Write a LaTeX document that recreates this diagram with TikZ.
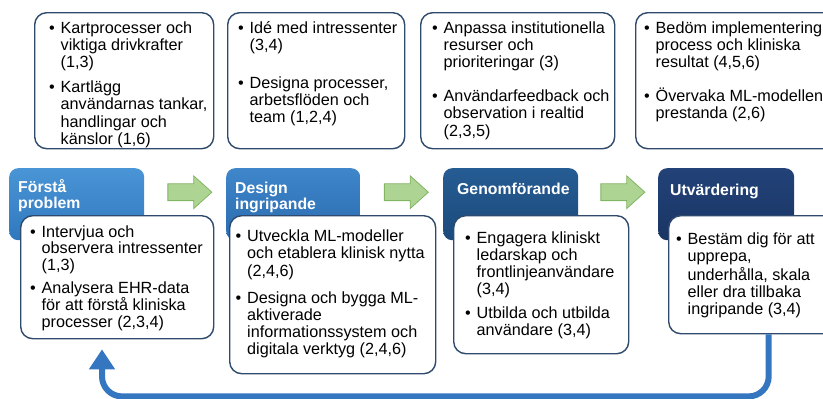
\documentclass[tikz,border=0pt]{standalone}
\usepackage{fontspec}
\setmainfont{Liberation Sans}
\usetikzlibrary{positioning,calc,shapes.arrows,arrows.meta}

\definecolor{rahmen}{HTML}{2F4A6C}
\definecolor{stegAt}{HTML}{4A95D6}
\definecolor{stegAb}{HTML}{2F78BD}
\definecolor{stegBt}{HTML}{3F86CA}
\definecolor{stegBb}{HTML}{2A6BAF}
\definecolor{stegCt}{HTML}{255C93}
\definecolor{stegCb}{HTML}{1C4A7C}
\definecolor{stegDt}{HTML}{224278}
\definecolor{stegDb}{HTML}{1A3564}
\definecolor{pilfyll}{HTML}{ADD493}
\definecolor{pilkant}{HTML}{82B563}
\definecolor{retur}{HTML}{3576C0}

% rader i en punkt
\newcommand{\rader}[1]{\begin{tabular}[t]{@{}l@{}}#1\end{tabular}}
\newcommand{\punkt}[1]{\makebox[11.5pt][l]{\textbullet}\rader{#1}}

\begin{document}
\begin{tikzpicture}[x=1pt,y=-1pt,
	frame/.style={draw=rahmen, line width=1.4pt, rounded corners=12pt, fill=white, anchor=north west, inner sep=0pt},
	head/.style={rounded corners=9pt, anchor=north west, inner sep=0pt, minimum width=135pt, minimum height=72pt},
	txt/.style={anchor=base west, inner sep=0pt, font=\fontsize{16.2}{17.3}\selectfont},
	tight/.style={txt, font=\fontsize{16.2}{16.3}\selectfont},
	headtxt/.style={anchor=base west, inner sep=0pt, text=white, font=\fontsize{15.8}{15.5}\selectfont\bfseries},
	flow/.style={single arrow, draw=pilkant, fill=pilfyll, line width=0.8pt, inner xsep=0pt, inner ysep=8pt,
		minimum height=44pt, single arrow head extend=8pt, single arrow tip angle=84},
	back/.style={draw=retur, line width=6pt, rounded corners=20pt, -{Triangle[width=25pt,length=20pt]}}
	]
	\useasboundingbox (0,0) rectangle (823,399);
	\clip (0,0) rectangle (823,399);
	
	% Övre rutor
	\node[frame, minimum width=179pt, minimum height=136pt] (top1) at (34,12) {};
	\node[frame, minimum width=177pt, minimum height=136pt] (top2) at (227,12) {};
	\node[frame, minimum width=194pt, minimum height=136pt] (top3) at (420,12) {};
	\node[frame, minimum width=230pt, minimum height=136pt] (top4) at (635,12) {};
	
	\node[txt] (t1a) at (49,33) {\punkt{Kartprocesser och\\viktiga drivkrafter\\(1,3)}};
	\node[txt] (t1b) at (49,92.5) {\punkt{Kartlägg\\användarnas tankar,\\handlingar och\\känslor (1,6)}};
	\node[txt] (t2a) at (238,33) {\punkt{Idé med intressenter\\(3,4)}};
	\node[txt] (t2b) at (238,88) {\punkt{Designa processer,\\arbetsflöden och\\team (1,2,4)}};
	\node[txt] (t3a) at (432,33) {\punkt{Anpassa institutionella\\resurser och\\prioriteringar (3)}};
	\node[txt] (t3b) at (432,101.5) {\punkt{Användarfeedback och\\observation i realtid\\(2,3,5)}};
	\node[txt] (t4a) at (644,33) {\punkt{Bedöm implementering\\process och kliniska\\resultat (4,5,6)}};
	\node[txt] (t4b) at (644,101.5) {\punkt{Övervaka ML-modellen\\prestanda (2,6)}};
	
	% Faser
	\node[head, top color=stegAt, bottom color=stegAb] (head1) at (9,168) {};
	\node[head, top color=stegBt, bottom color=stegBb, minimum width=134pt] (head2) at (226,168) {};
	\node[head, top color=stegCt, bottom color=stegCb] (head3) at (443,168) {};
	\node[head, top color=stegDt, bottom color=stegDb, minimum width=136pt] (head4) at (658,168) {};
	
	\node[headtxt] (h1) at (18,192) {\rader{Förstå\\problem}};
	\node[headtxt] (h2) at (235,193) {\rader{Design\\ingripande}};
	\node[headtxt] (h3) at (457,194) {Genomförande};
	\node[headtxt] (h4) at (670,195) {Utvärdering};
	
	% Undre rutor
	\node[frame, minimum width=193pt, minimum height=123pt] (body1) at (20,215) {};
	\node[frame, minimum width=206pt, minimum height=158pt] (body2) at (229,215) {};
	\node[frame, minimum width=175pt, minimum height=138pt] (body3) at (453,215) {};
	\node[frame, minimum width=200pt, minimum height=118pt] (body4) at (668,215) {};
	
	\node[tight] (b1a) at (30,237) {\punkt{Intervjua och\\observera intressenter\\(1,3)}};
	\node[tight] (b1b) at (30,293) {\punkt{Analysera EHR-data\\för att förstå kliniska\\processer (2,3,4)}};
	\node[txt] (b2a) at (235.5,241.5) {\punkt{Utveckla ML-modeller\\och etablera klinisk nytta\\(2,4,6)}};
	\node[txt] (b2b) at (235.5,303) {\punkt{Designa och bygga ML-\\aktiverade\\informationssystem och\\digitala verktyg (2,4,6)}};
	\node[txt] (b3a) at (465,243) {\punkt{Engagera kliniskt\\ledarskap och\\frontlinjeanvändare\\(3,4)}};
	\node[txt] (b3b) at (465,318) {\punkt{Utbilda och utbilda\\användare (3,4)}};
	\node[txt] (b4a) at (676,244.5) {\punkt{Bestäm dig för att\\upprepa,\\underhålla, skala\\eller dra tillbaka\\ingripande (3,4)}};
	
	% Pilar mellan faserna
	\node[flow] (arr1) at ($(head1.east)!0.5!(head2.west)+(0,-12)$) {};
	\node[flow] (arr2) at ($(head2.east)!0.5!(head3.west)+(0,-12)$) {};
	\node[flow] (arr3) at ($(head3.east)!0.5!(head4.west)+(0,-12)$) {};
	
	% Tillbaka till start
	\coordinate (ret) at ($(body1.south west)+(82,10)$);
	\draw[back] (body4.south) -- ++(0,62) -| (ret);
\end{tikzpicture}
\end{document}
